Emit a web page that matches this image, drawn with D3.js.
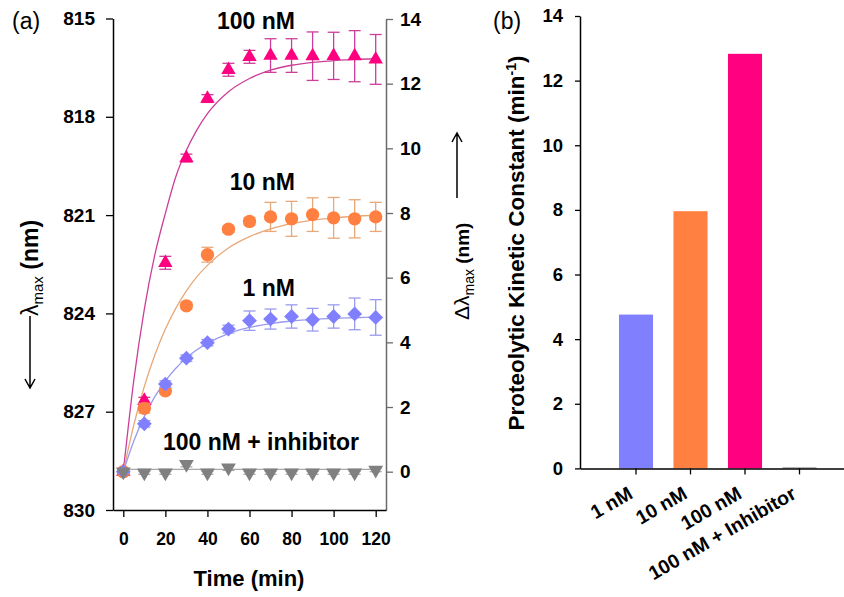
<!DOCTYPE html>
<html>
<head>
<meta charset="utf-8">
<script src="https://cdn.jsdelivr.net/npm/d3@7/dist/d3.min.js"></script>
<style>
    body { margin: 0; background: #fff; }
    svg { display: block; font-family: "Liberation Sans", Arial, sans-serif; }
</style>
</head>
<body>
<script>
// Panel (a) : shift of lambda max vs time
const times = [0, 10, 20, 30, 40, 50, 60, 70, 80, 90, 100, 110, 120];

const shift100 = [0, 2.2, 6.46, 9.70, 11.54, 12.43, 12.83, 12.87, 12.87, 12.85, 12.86, 12.85, 12.75];
const err100   = [0, 0.1, 0.2, 0.12, 0.12, 0.2, 0.2, 0.52, 0.52, 0.75, 0.73, 0.79, 0.77];

const shift10 = [0, 1.96, 2.5, 5.13, 6.71, 7.50, 7.74, 7.88, 7.82, 7.95, 7.85, 7.82, 7.88];
const err10   = [0, 0.15, 0.1, 0.1, 0.23, 0.1, 0.12, 0.45, 0.54, 0.52, 0.63, 0.59, 0.45];

const shift1 = [0, 1.48, 2.71, 3.51, 3.99, 4.41, 4.67, 4.72, 4.80, 4.70, 4.80, 4.88, 4.77];
const err1   = [0, 0.1, 0.1, 0.1, 0.1, 0.12, 0.3, 0.31, 0.36, 0.35, 0.36, 0.49, 0.55];

const shiftInh = [0, -0.03, -0.03, 0.23, -0.03, 0.12, -0.03, -0.03, -0.03, -0.03, -0.03, -0.03, 0.05];
const errInh   = [0, 0.05, 0.05, 0.08, 0.05, 0.08, 0.05, 0.05, 0.05, 0.05, 0.05, 0.05, 0.05];

// fitted curves
const fitTimes = [0, 5, 10, 15, 20, 25, 30, 35, 40, 50, 60, 70, 80, 90, 100, 110, 120];
const fit100 = [0, 2.83, 5.03, 6.71, 7.99, 9.13, 9.94, 10.57, 11.07, 11.75, 12.16, 12.42, 12.57, 12.66, 12.71, 12.75, 12.77];
const fit10  = [0, 1.45, 2.64, 3.61, 4.41, 5.06, 5.59, 6.03, 6.38, 6.92, 7.27, 7.51, 7.67, 7.78, 7.85, 7.90, 7.93];
const fit1   = [0, 0.95, 1.71, 2.32, 2.81, 3.20, 3.52, 3.77, 3.97, 4.27, 4.46, 4.58, 4.66, 4.71, 4.74, 4.76, 4.78];
const fitInh = [0.07, 0.07, 0.07, 0.07, 0.07, 0.07, 0.07, 0.07, 0.07, 0.07, 0.07, 0.07, 0.07, 0.07, 0.07, 0.07, 0.07];

const lambdaTicks = [815, 818, 821, 824, 827, 830];
const shiftTicks = [0, 2, 4, 6, 8, 10, 12, 14];
const timeTicks = [0, 20, 40, 60, 80, 100, 120];

// Panel (b) : kinetic constants
const kinLabels = ["1 nM", "10 nM", "100 nM", "100 nM + Inhibitor"];
const kinValues = [4.76, 7.96, 12.83, 0.03];
const kinColors = ["#8080FF", "#FF8040", "#FF0080", "#808080"];
const kinTicks = [0, 2, 4, 6, 8, 10, 12, 14];

const W = 844, H = 597;
const bold = "bold";

var svg = d3.select("body").append("svg")
    .attr("width", W)
    .attr("height", H);

// ---------- Panel (a) ----------
var x = d3.scaleLinear().domain([-4.9, 124.9]).range([113, 386]);
var yLambda = d3.scaleLinear().domain([815, 830]).range([18.5, 510]);
var yShift = d3.scaleLinear().domain([-1.185, 14]).range([510, 19]);

function styleAxis(g, size, color) {
    g.attr("font-family", "Liberation Sans, Arial, sans-serif")
        .attr("font-size", size)
        .attr("font-weight", bold);
    g.select(".domain").attr("stroke", color).attr("stroke-width", 1.5);
    g.selectAll(".tick line").attr("stroke", color).attr("stroke-width", 1.3);
    g.selectAll(".tick text").attr("fill", "#000");
}

svg.append("g")
    .attr("transform", "translate(113,0)")
    .call(d3.axisLeft(yLambda).tickValues(lambdaTicks).tickSize(7).tickSizeOuter(0).tickPadding(11))
    .call(g => styleAxis(g, 19, "#000"));

svg.append("g")
    .attr("transform", "translate(386,0)")
    .call(d3.axisRight(yShift).tickValues(shiftTicks).tickSize(7).tickSizeOuter(0).tickPadding(7))
    .call(g => styleAxis(g, 19, "#6a6a6a"));

svg.append("g")
    .attr("transform", "translate(0,510)")
    .call(d3.axisBottom(x).tickValues(timeTicks).tickSize(7).tickSizeOuter(0).tickPadding(16))
    .call(g => styleAxis(g, 17.5, "#000"));

var series = [
    { vals: shift100, errs: err100, fit: fit100, fill: "#FF0080", line: "#CC3F99", shape: "tri" },
    { vals: shift10, errs: err10, fit: fit10, fill: "#FF8040", line: "#E8A878", shape: "circ" },
    { vals: shift1, errs: err1, fit: fit1, fill: "#8080FF", line: "#9A9AEE", shape: "diam" },
    { vals: shiftInh, errs: errInh, fit: fitInh, fill: "#808080", line: "#A8A8A8", shape: "inv" }
];

var fitLine = d3.line()
    .x((d, i) => x(fitTimes[i]))
    .y(d => yShift(d))
    .curve(d3.curveMonotoneX);

// fitted curves under the markers
series.forEach(function(s) {
    svg.append("path")
        .attr("d", fitLine(s.fit))
        .attr("fill", "none")
        .attr("stroke", s.line)
        .attr("stroke-width", 1.3);
});

var shapes = {
    tri: { sym: d3.symbolTriangle, size: 90, rot: 0 },
    circ: { sym: d3.symbolCircle, size: 140, rot: 0 },
    diam: { sym: d3.symbolSquare, size: 110, rot: 45 },
    inv: { sym: d3.symbolTriangle, size: 95, rot: 180 }
};

series.forEach(function(s) {
    var g = svg.append("g");
    var pts = times.map((t, i) => ({ t: t, v: s.vals[i], e: s.errs[i] }));

    // error bars
    var eb = g.selectAll(".err").data(pts.filter(d => d.e > 0)).enter().append("g")
        .attr("stroke", s.line)
        .attr("stroke-width", 1.3);
    eb.append("line")
        .attr("x1", d => x(d.t)).attr("x2", d => x(d.t))
        .attr("y1", d => yShift(d.v - d.e)).attr("y2", d => yShift(d.v + d.e));
    eb.append("line")
        .attr("x1", d => x(d.t) - 6).attr("x2", d => x(d.t) + 6)
        .attr("y1", d => yShift(d.v - d.e)).attr("y2", d => yShift(d.v - d.e));
    eb.append("line")
        .attr("x1", d => x(d.t) - 6).attr("x2", d => x(d.t) + 6)
        .attr("y1", d => yShift(d.v + d.e)).attr("y2", d => yShift(d.v + d.e));

    // markers
    var sh = shapes[s.shape];
    g.selectAll(".pt").data(pts).enter().append("path")
        .attr("d", d3.symbol(sh.sym, sh.size))
        .attr("transform", d => "translate(" + x(d.t) + "," + yShift(d.v) + ") rotate(" + sh.rot + ")")
        .attr("fill", s.fill);
});

// series labels
var labels = [
    { txt: "100 nM", x: 295, y: 29, anchor: "end" },
    { txt: "10 nM", x: 295, y: 190, anchor: "end" },
    { txt: "1 nM", x: 295, y: 296, anchor: "end" },
    { txt: "100 nM + inhibitor", x: 261, y: 450, anchor: "middle" }
];
svg.selectAll(".lab").data(labels).enter().append("text")
    .attr("x", d => d.x).attr("y", d => d.y)
    .attr("text-anchor", d => d.anchor)
    .attr("font-size", 23).attr("font-weight", bold)
    .text(d => d.txt);

// x title
svg.append("text")
    .attr("x", 249).attr("y", 586)
    .attr("text-anchor", "middle")
    .attr("font-size", 22).attr("font-weight", bold)
    .text("Time (min)");

// left title with arrow
var lt = svg.append("text")
    .attr("transform", "translate(38,316) rotate(-90)")
    .attr("font-size", 23).attr("font-weight", bold);
lt.append("tspan").attr("font-weight", "normal").text("λ");
lt.append("tspan").attr("font-size", 15).attr("font-weight", "normal").attr("dy", 5).text("max");
lt.append("tspan").attr("dy", -5).text(" (nm)");

function arrow(x0, y0, y1) {
    var dir = y1 > y0 ? -1 : 1;
    svg.append("path")
        .attr("d", "M" + x0 + "," + y0 + "L" + x0 + "," + y1 +
            "M" + (x0 - 5) + "," + (y1 + dir * 9) + "L" + x0 + "," + y1 + "L" + (x0 + 5) + "," + (y1 + dir * 9))
        .attr("fill", "none")
        .attr("stroke", "#000")
        .attr("stroke-width", 1.5);
}
arrow(30, 316, 388);

// right title with arrow
var rt = svg.append("text")
    .attr("transform", "translate(469,320) rotate(-90)")
    .attr("font-size", 21).attr("font-weight", bold);
rt.append("tspan").attr("font-weight", "normal").text("Δλ");
rt.append("tspan").attr("font-size", 14).attr("font-weight", "normal").attr("dy", 5).text("max");
rt.append("tspan").attr("dy", -5).attr("font-size", 19).text(" (nm)");
arrow(457, 198, 133);

svg.append("text")
    .attr("x", 12).attr("y", 29)
    .attr("font-size", 23)
    .text("(a)");

// ---------- Panel (b) ----------
var xb = d3.scaleBand().domain(kinLabels).range([580, 855.5])
    .paddingInner(0.375).paddingOuter(0.715);
var yb = d3.scaleLinear().domain([0, 14]).range([468.4, 16]);

svg.selectAll(".bar").data(kinValues).enter().append("rect")
    .attr("x", (d, i) => xb(kinLabels[i]))
    .attr("width", xb.bandwidth())
    .attr("y", d => yb(d))
    .attr("height", d => Math.max(1, yb(0) - yb(d)))
    .attr("fill", (d, i) => kinColors[i]);

svg.append("g")
    .attr("transform", "translate(580,0)")
    .call(d3.axisLeft(yb).tickValues(kinTicks).tickSize(5).tickSizeOuter(0).tickPadding(12))
    .call(g => styleAxis(g, 18.5, "#000"));

var xAxisB = svg.append("g")
    .attr("transform", "translate(0,468.4)")
    .call(d3.axisBottom(xb).tickSize(6).tickSizeOuter(0))
    .call(g => styleAxis(g, 19.5, "#000"));
xAxisB.selectAll(".tick text")
    .attr("text-anchor", "end")
    .attr("dy", 0)
    .attr("y", 0)
    .attr("transform", "translate(-2,29) rotate(-30)");

var yt = svg.append("text")
    .attr("transform", "translate(524,243) rotate(-90)")
    .attr("text-anchor", "middle")
    .attr("font-size", 22.5).attr("font-weight", bold);
yt.append("tspan").text("Proteolytic Kinetic Constant (min");
yt.append("tspan").attr("font-size", 14).attr("dy", -8).text("-1");
yt.append("tspan").attr("dy", 8).text(")");

svg.append("text")
    .attr("x", 493).attr("y", 29)
    .attr("font-size", 23)
    .text("(b)");
</script>
</body>
</html>
